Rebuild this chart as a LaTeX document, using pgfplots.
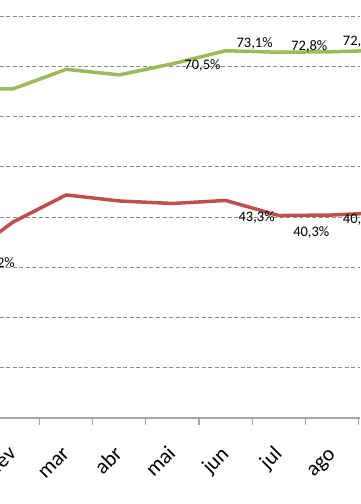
\documentclass[border=0pt]{standalone}
\usepackage{fontspec}
\setmainfont{Carlito}
\usepackage{pgfplots}
\pgfplotsset{compat=1.18}
\definecolor{grn}{HTML}{9BBB59}
\definecolor{rd}{HTML}{C0504D}
\definecolor{gridc}{HTML}{8C8C8C}
\definecolor{axc}{HTML}{A6A6A6}
\newcommand\tl[1]{{\fontsize{21.5}{23}\selectfont #1}}
\pgfplotsset{lbl/.style 2 args={draw=none, nodes near coords, point meta=explicit symbolic,
  every node near coord/.style={anchor=base, xshift=#1, yshift=#2, font=\fontsize{14.5}{16}\selectfont, text=black, inner sep=0pt}}}
\begin{document}
\begin{tikzpicture}
\useasboundingbox (0,-86pt) rectangle (360pt,418pt);
\begin{axis}[
 at={(0,0)}, anchor=south west,
 scale only axis, width=360pt, height=418pt,
 xmin=0.756, xmax=7.527, ymin=0, ymax=83.2,
 clip=false,
 axis x line*=bottom, axis y line*=left,
 y axis line style={draw=none},
 x axis line style={axc, line width=1.3pt},
 xtick={0,...,8}, xticklabels={\tl{jan},\tl{fev},\tl{mar},\tl{abr},\tl{mai},\tl{jun},\tl{jul},\tl{ago},\tl{set}},
 minor xtick={0.5,1.5,...,8.5},
 tick align=outside, major tick length=0pt, minor tick length=7pt,
 minor tick style={axc, line width=1.2pt},
 ytick={10,20,...,80}, yticklabels={},
 ymajorgrids, major grid style={gridc, dash pattern=on 4pt off 2.5pt, line width=0.9pt},
 xticklabel style={inner sep=0pt, text height=16pt, text depth=5pt, anchor=east, xshift=0.5pt, yshift=-33pt, rotate=45},
]
\addplot[grn, line width=3.5pt, line join=round] coordinates {(0,65.5)(1,65.5)(2,69.4)(3,68.3)(4,70.5)(5,73.1)(6,72.8)(7,72.9)(8,73.2)};
\addplot[rd, line width=3.5pt, line join=round] coordinates {(0,31.2)(1,39.0)(2,44.4)(3,43.2)(4,42.7)(5,43.3)(6,40.3)(7,40.4)(8,40.9)};
\addplot[lbl={30pt}{-5.2pt}] coordinates {(4,70.5) [70,5\%]};
\addplot[lbl={29pt}{3.7pt}] coordinates {(5,73.1) [73,1\%]};
\addplot[lbl={30.5pt}{2.2pt}] coordinates {(6,72.8) [72,8\%]};
\addplot[lbl={29pt}{6.7pt}] coordinates {(7,72.9) [72,9\%]};
\addplot[lbl={37pt}{-5.8pt}] coordinates {(0,31.2) [31,2\%]};
\addplot[lbl={31pt}{-21.4pt}] coordinates {(5,43.3) [43,3\%]};
\addplot[lbl={32.5pt}{-20.5pt}] coordinates {(6,40.3) [40,3\%]};
\addplot[lbl={29pt}{-8pt}] coordinates {(7,40.4) [40,4\%]};
\end{axis}
\end{tikzpicture}
\end{document}
